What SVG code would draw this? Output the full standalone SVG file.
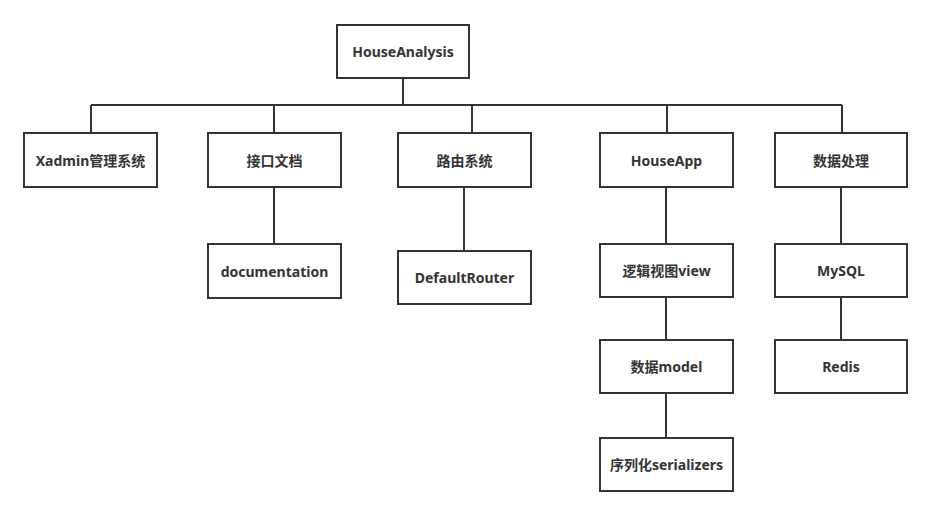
<svg xmlns="http://www.w3.org/2000/svg" width="932" height="516" viewBox="0 0 932 516">
<style>
.box{fill:#fff;stroke:#333;stroke-width:2}
.lbl{font-family:"Noto Sans","Noto Sans CJK SC",sans-serif;font-size:14px;font-weight:bold;fill:#333;text-anchor:middle;dominant-baseline:central}
.conn{fill:none;stroke:#333;stroke-width:2}
</style>
<rect width="932" height="516" fill="#fff"/>
<g id="connectors">
<path class="conn" d="M403 78V105M91 105H842M91 105V133M274 105V133M472 105V133M667 105V133M842 105V133"/>
<path class="conn" d="M274 187V244M464 187V251M666 187V244M666 297V340M666 393V438M841 187V244M841 297V340"/>
</g>
<g id="HouseAnalysis"><rect class="box" x="337" y="25" width="132" height="53"/><text class="lbl" x="403" y="51.5">HouseAnalysis</text></g>
<g id="Xadmin"><rect class="box" x="24" y="133" width="133" height="54"/><text class="lbl" x="90.5" y="160">Xadmin管理系统</text></g>
<g id="api-doc"><rect class="box" x="208" y="133" width="133" height="54"/><text class="lbl" x="274.5" y="160">接口文档</text></g>
<g id="router"><rect class="box" x="398" y="133" width="133" height="54"/><text class="lbl" x="464.5" y="160">路由系统</text></g>
<g id="HouseApp"><rect class="box" x="600" y="133" width="133" height="54"/><text class="lbl" x="666.5" y="160">HouseApp</text></g>
<g id="data-proc"><rect class="box" x="775" y="133" width="132" height="54"/><text class="lbl" x="841" y="160">数据处理</text></g>
<g id="documentation"><rect class="box" x="208" y="244" width="133" height="54"/><text class="lbl" x="274.5" y="271">documentation</text></g>
<g id="DefaultRouter"><rect class="box" x="398" y="251" width="133" height="53"/><text class="lbl" x="464.5" y="277.5">DefaultRouter</text></g>
<g id="view"><rect class="box" x="600" y="244" width="133" height="53"/><text class="lbl" x="666.5" y="270.5">逻辑视图view</text></g>
<g id="MySQL"><rect class="box" x="775" y="244" width="132" height="53"/><text class="lbl" x="841" y="270.5">MySQL</text></g>
<g id="model"><rect class="box" x="600" y="340" width="133" height="53"/><text class="lbl" x="666.5" y="366.5">数据model</text></g>
<g id="Redis"><rect class="box" x="775" y="340" width="132" height="53"/><text class="lbl" x="841" y="366.5">Redis</text></g>
<g id="serializers"><rect class="box" x="600" y="438" width="133" height="53"/><text class="lbl" x="666.5" y="464.5">序列化serializers</text></g>
</svg>
